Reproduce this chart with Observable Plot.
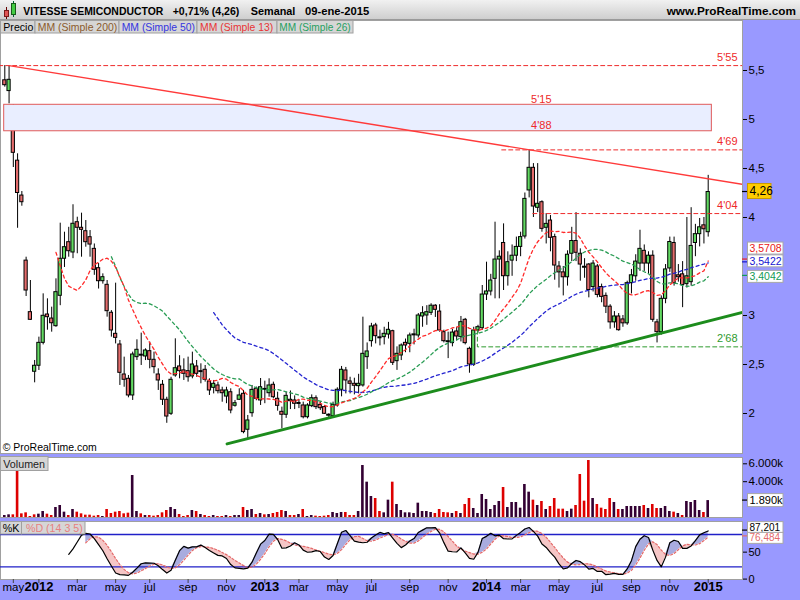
<!DOCTYPE html>
<html>
<head>
<meta charset="utf-8">
<script src="https://cdn.jsdelivr.net/npm/d3@7"></script>
<script src="https://cdn.jsdelivr.net/npm/@observablehq/plot@0.6"></script>
<style>
html,body{margin:0;padding:0;background:#fff;}
#root{position:relative;width:800px;height:600px;background:#9999ff;overflow:hidden;font-family:"Liberation Sans",Arial,sans-serif;}
.panel{position:absolute;left:0;line-height:0;}
#overlay{position:absolute;left:0;top:0;pointer-events:none;}
</style>
</head>
<body>
<div id="root">
  <div id="main" class="panel" style="top:20px"></div>
  <div id="vol" class="panel" style="top:457px"></div>
  <div id="sto" class="panel" style="top:521px"></div>
  <svg id="overlay" width="800" height="600"></svg>
</div>
<script>
// ---------------- DATA (weekly candles, 11-nov-2011 .. 09-ene-2015) ----------------
const open = [5.40,5.29,5.10,4.58,4.224,3.56,3.034,2.426,2.487,2.721,
3.01,2.969,2.891,3.201,3.579,3.748,3.643,3.952,3.895,3.86,
3.799,3.68,3.483,3.35,3.313,3.028,2.813,2.704,2.398,2.354,
2.184,2.575,2.59,2.582,2.636,2.548,2.398,2.293,2.14,1.997,
2.388,2.48,2.44,2.432,2.378,2.48,2.43,2.446,2.327,2.262,
2.286,2.235,2.173,2.217,2.079,2.14,2.201,1.834,2.003,2.252,
2.133,2.24,2.207,2.293,2.15,2.017,1.987,2.126,2.133,2.10,
2.082,1.962,2.075,2.156,2.088,2.065,1.98,1.973,2.082,2.242,
2.439,2.327,2.303,2.279,2.286,2.575,2.738,2.898,2.77,2.779,
2.806,2.84,2.534,2.592,2.721,2.711,2.80,2.796,2.99,3.00,
3.027,3.10,3.04,2.83,2.73,2.718,2.837,2.779,2.956,2.66,
2.497,2.847,2.87,3.214,3.245,3.374,3.571,3.74,3.401,3.56,
3.61,3.70,3.806,4.276,4.507,4.099,4.156,3.895,3.969,3.80,
3.50,3.44,3.39,3.63,3.76,3.63,3.49,3.52,3.29,3.50,
3.29,3.20,3.09,2.93,2.99,2.96,2.92,3.33,3.40,3.53,
3.66,3.53,3.61,2.93,2.83,3.17,3.48,3.74,3.41,3.42,
3.32,3.34,3.74,3.83,3.92,3.85];
const high = [5.55,5.55,5.15,4.65,4.265,3.595,3.357,2.541,2.779,3.221,
3.17,3.085,3.374,3.942,3.85,3.90,4.13,4.003,4.044,3.969,
3.867,3.73,3.53,3.425,3.357,3.05,3.33,2.745,2.575,2.388,
2.626,2.752,2.82,2.66,2.728,2.626,2.456,2.337,2.166,2.37,
2.762,2.59,2.558,2.575,2.626,2.541,2.507,2.49,2.354,2.337,
2.32,2.268,2.268,2.252,2.133,2.252,2.235,1.98,2.286,2.27,
2.357,2.33,2.354,2.32,2.217,2.065,2.217,2.23,2.18,2.14,
2.116,2.10,2.19,2.18,2.12,2.082,1.997,2.116,2.262,2.48,
2.47,2.37,2.36,2.40,2.983,2.72,2.92,2.92,2.85,2.88,
2.93,2.85,2.68,2.71,2.76,2.82,2.86,3.02,3.09,3.10,
3.12,3.11,3.11,2.85,2.83,2.86,2.88,2.99,2.97,2.677,
2.88,2.90,3.306,3.544,3.42,3.952,3.66,3.935,3.65,3.72,
3.80,3.85,4.25,4.69,4.55,4.55,4.17,4.04,4.02,3.83,
3.55,3.50,3.66,3.90,4.05,3.68,3.58,3.53,3.56,3.52,
3.32,3.23,3.11,3.04,3.02,3.00,3.35,3.47,3.62,3.87,
3.72,3.65,3.66,2.96,3.20,3.52,3.80,3.80,3.52,3.55,
4.00,4.10,3.93,3.99,4.00,4.43];
const low = [5.33,5.16,4.51,3.89,4.115,3.194,2.949,2.313,2.439,2.70,
2.85,2.83,2.88,3.10,3.49,3.595,3.58,3.63,3.595,3.697,
3.595,3.41,3.27,3.32,2.983,2.779,2.71,2.286,2.268,2.16,
2.133,2.541,2.49,2.54,2.456,2.405,2.235,2.082,1.90,1.98,
2.37,2.354,2.337,2.32,2.354,2.37,2.303,2.32,2.184,2.20,
2.20,2.115,2.10,1.997,2.065,2.133,1.793,1.742,1.962,2.13,
2.082,2.10,2.166,2.15,2.024,1.844,1.95,2.04,2.04,2.05,
1.945,1.945,2.06,2.04,2.03,1.99,1.96,1.96,2.065,2.17,
2.20,2.20,2.19,2.20,2.269,2.45,2.677,2.71,2.69,2.70,
2.76,2.49,2.44,2.54,2.62,2.62,2.70,2.77,2.88,2.90,
3.00,2.98,2.83,2.72,2.56,2.68,2.74,2.73,2.70,2.411,
2.48,2.82,2.847,3.153,3.20,3.17,3.17,3.255,3.30,3.40,
3.55,3.60,3.78,4.20,4.00,4.05,3.85,3.73,3.65,3.36,
3.28,3.20,3.30,3.55,3.55,3.35,3.38,3.18,3.24,3.18,
3.13,3.02,2.86,2.87,2.84,2.88,2.90,3.22,3.35,3.45,
3.45,3.42,2.93,2.72,2.80,3.12,3.44,3.30,3.34,3.08,
3.28,3.30,3.60,3.70,3.73,3.80];
const close = [5.35,5.405,4.66,4.25,4.156,3.255,2.956,2.487,2.721,2.997,
2.983,2.921,3.238,3.579,3.697,3.656,3.936,3.895,3.874,3.748,
3.724,3.466,3.35,3.391,3.044,2.847,2.772,2.415,2.344,2.184,
2.602,2.65,2.60,2.643,2.548,2.473,2.337,2.14,1.969,2.344,
2.462,2.432,2.405,2.37,2.50,2.405,2.425,2.344,2.235,2.303,
2.228,2.207,2.235,2.031,2.105,2.184,1.81,1.929,2.241,2.15,
2.268,2.252,2.286,2.166,2.078,1.987,2.18,2.14,2.099,2.105,
1.962,2.082,2.156,2.065,2.054,1.997,1.985,2.088,2.242,2.446,
2.337,2.303,2.283,2.303,2.609,2.633,2.888,2.789,2.775,2.813,
2.854,2.517,2.609,2.694,2.694,2.796,2.805,3.00,3.023,3.034,
3.10,3.058,2.847,2.738,2.735,2.826,2.786,2.932,2.718,2.50,
2.847,2.881,3.214,3.245,3.357,3.571,3.60,3.401,3.544,3.61,
3.70,3.80,4.19,4.507,4.112,4.14,3.884,3.935,3.793,3.51,
3.44,3.39,3.62,3.76,3.64,3.52,3.495,3.26,3.53,3.21,
3.19,3.09,2.93,2.99,2.85,2.92,3.33,3.41,3.55,3.68,
3.53,3.61,2.956,2.83,3.17,3.47,3.75,3.33,3.39,3.31,
3.40,3.71,3.83,3.90,3.88,4.26];
// volume in thousands of shares
const volume = [223,298,298,5251,410,521,112,298,372,670,
372,223,1117,1341,596,223,894,596,410,261,
261,149,223,112,894,447,596,670,410,484,
4692,670,410,223,223,149,223,521,782,1117,
894,335,112,223,782,670,335,223,112,223,
112,112,223,112,223,223,1117,782,894,335,
447,298,335,447,559,782,670,223,223,335,
894,112,223,149,112,149,223,559,447,559,
559,223,223,670,5809,3947,2346,2123,670,521,
1936,3947,1452,782,521,521,447,1601,670,670,
559,447,894,559,521,447,670,447,1452,2123,
1005,447,2570,2011,894,1341,1788,3352,1117,1676,
1676,1043,3687,2830,1936,1341,1788,894,1229,2123,
931,931,670,931,1341,4804,1825,6368,2123,1452,
1043,894,2123,1676,894,894,1229,1229,1229,1229,
1341,1005,1452,1005,1005,1229,670,596,447,223,
1788,1676,1899,782,559,1890];

const priceTicks = [2, 2.5, 3, 4, 4.5, 5, 5.5];
const volumeTicks = [4000, 6000];
const stochTicks = [0, 50];
const stochBands = [80, 20];
const xTickDates = ["2011-11-25","2012-01-06","2012-03-09","2012-05-11","2012-07-06","2012-09-07","2012-11-09",
  "2013-01-11","2013-03-08","2013-05-10","2013-07-05","2013-09-06","2013-11-08",
  "2014-01-10","2014-03-07","2014-05-09","2014-07-11","2014-09-05","2014-11-07","2015-01-09"];
const xTickLabels = ["may","2012","mar","may","jul","sep","nov","2013","mar","may","jul","sep","nov",
  "2014","mar","may","jul","sep","nov","2015"];

// drawn objects (levels, zone, trend lines)
const levelPrices = [5.55, 4.69, 4.04, 2.68];
const levelLabels = ["5'55", "4'69", "4'04", "2'68"];
const levelStarts = ["2011-11-01", "2014-02-04", "2014-03-27", "2013-12-26"];
const zonePrices = [4.88, 5.15];
const zoneDates = ["2011-11-10", "2015-01-15"];
const zoneLabelDate = "2014-04-10";
const resistanceDates = ["2011-11-18", "2015-03-08"];
const resistancePrices = [5.55, 4.337];
const supportDates = ["2012-11-10", "2015-03-08"];
const supportPrices = [1.69, 3.034];

// last values shown in the right scale
const lastPrice = 4.26;
const maLast = [3.5708, 3.5422, 3.4042];      // MM13, MM50, MM26
const lastVolume = 1890;
const stochLast = [87.201, 76.484];           // %K, %D

// ---------------- BUILD ----------------
const FONT = '"Liberation Sans", Arial, sans-serif';
const DAY = 864e5;
const PX_WEEK = 4.263;
const pxToMs = px => px / PX_WEEK * 7 * DAY;
const weeks = d3.utcFriday.range(new Date(Date.UTC(2011,10,11)), new Date(Date.UTC(2015,0,10)));
if (weeks.length !== open.length || [high,low,close,volume].some(a => a.length !== open.length))
  throw new Error("length mismatch " + weeks.length + " " + [open,high,low,close,volume].map(a=>a.length));
const xDomain = [new Date(+weeks[0] - pxToMs(4.3)), new Date(+weeks[0] + pxToMs(742 - 4.3))];
const D = s => new Date(s + "T00:00:00Z");

const candles = weeks.map((date, i) => ({
  date, open: open[i], high: high[i], low: low[i], close: close[i], volume: volume[i],
  bull: close[i] >= open[i], up: i === 0 ? true : close[i] >= close[i-1]
}));
const sma = (vals, k) => vals.map((_, i) => i < k - 1 ? NaN : d3.mean(vals.slice(i - k + 1, i + 1)));
const ma = k => sma(close, k).map((v, i) => ({date: weeks[i], v})).filter(d => !isNaN(d.v));

// stochastic 14,3,5
const rawK = candles.map((d, i) => {
  if (i < 13) return NaN;
  const w = candles.slice(i - 13, i + 1);
  const hh = d3.max(w, e => e.high), ll = d3.min(w, e => e.low);
  return (d.close - ll) / (hh - ll) * 100;
});
const kVals = rawK.map((_, i) => i < 15 ? NaN : d3.mean(rawK.slice(i - 2, i + 1)));
const dVals = kVals.map((_, i) => i < 19 ? NaN : d3.mean(kVals.slice(i - 4, i + 1)));
const kRows = weeks.map((date, i) => ({date, k: kVals[i]})).filter(d => !isNaN(d.k));
const stRows = weeks.map((date, i) => ({date, k: kVals[i], d: dVals[i]})).filter(d => !isNaN(d.d));

const HALF_BODY = pxToMs(1.6);
const HALF_VOL = pxToMs(1.3);
const GREEN = "#62da62", REDC = "#e46c6c";
const bodyLo = d => Math.abs(d.open - d.close) < 0.012 ? (d.open + d.close) / 2 - 0.005 : Math.min(d.open, d.close);
const bodyHi = d => Math.abs(d.open - d.close) < 0.012 ? (d.open + d.close) / 2 + 0.005 : Math.max(d.open, d.close);
const comma = v => String(v).replace(".", ",");
const LVL_RED = "#ee2a2a", LVL_GREEN = "#2e9a2e";

const levelMarks = levelPrices.flatMap((p, i) => {
  const green = i === 3;
  const col = green ? LVL_GREEN : LVL_RED;
  const pts = [];
  if (green) pts.push({date: D(levelStarts[i]), price: 2.85});
  pts.push({date: D(levelStarts[i]), price: p}, {date: xDomain[1], price: p});
  return [
    Plot.line(pts, {x: "date", y: "price", stroke: col, strokeWidth: 1, strokeDasharray: "4,3", clip: true}),
    Plot.text([{price: p, label: levelLabels[i]}], {x: () => xDomain[1], y: "price", text: "label", fill: col,
      textAnchor: "end", dx: -5, dy: -8, fontSize: 11})
  ];
});

const mainPlot = Plot.plot({
  width: 800, height: 433, marginTop: 0, marginBottom: 0, marginLeft: 0, marginRight: 58,
  style: {background: "transparent", color: "black", fontFamily: FONT, fontSize: "11px", overflow: "visible"},
  x: {type: "utc", domain: xDomain, axis: null},
  y: {domain: [1.5918, 6.0102]},
  marks: [
    Plot.frame({fill: "white", stroke: "#a0a0a0"}),
    Plot.ruleX(candles, {x: "date", y1: "low", y2: "high", stroke: "black", strokeWidth: 1}),
    Plot.rect(candles, {filter: d => d.bull, x1: d => new Date(+d.date - HALF_BODY), x2: d => new Date(+d.date + HALF_BODY),
      y1: bodyLo, y2: bodyHi, fill: GREEN, stroke: "black", strokeWidth: 1}),
    Plot.rect(candles, {filter: d => !d.bull, x1: d => new Date(+d.date - HALF_BODY), x2: d => new Date(+d.date + HALF_BODY),
      y1: bodyLo, y2: bodyHi, fill: REDC, stroke: "black", strokeWidth: 1}),
    Plot.line(ma(50), {x: "date", y: "v", stroke: "#2424d0", strokeWidth: 1.3, strokeDasharray: "3,3"}),
    Plot.line(ma(26), {x: "date", y: "v", stroke: "#2a9d55", strokeWidth: 1.3, strokeDasharray: "3,3"}),
    Plot.line(ma(13), {x: "date", y: "v", stroke: "#ff2a2a", strokeWidth: 1.3, strokeDasharray: "3,3"}),
    Plot.rect([{}], {x1: () => D(zoneDates[0]), x2: () => D(zoneDates[1]), y1: () => zonePrices[0], y2: () => zonePrices[1],
      fill: "#e9eeff", stroke: "#e05a5a", strokeWidth: 1}),
    Plot.text([{p: zonePrices[1], t: "5'15"}], {x: () => D(zoneLabelDate), y: "p", text: "t", dy: -5, fill: LVL_RED, fontSize: 11}),
    Plot.text([{p: zonePrices[0], t: "4'88"}], {x: () => D(zoneLabelDate), y: "p", text: "t", dy: -6, fill: LVL_RED, fontSize: 11}),
    ...levelMarks,
    Plot.line(resistanceDates.map((s, i) => ({date: D(s), price: resistancePrices[i]})),
      {x: "date", y: "price", stroke: "#ff3a3a", strokeWidth: 1.4, clip: true}),
    Plot.line(supportDates.map((s, i) => ({date: D(s), price: supportPrices[i]})),
      {x: "date", y: "price", stroke: "#1c8c1c", strokeWidth: 3, clip: true}),
    Plot.axisY({anchor: "right", ticks: priceTicks, tickFormat: comma, tickSize: 4, tickPadding: 2, fontSize: 11.5, label: null})
  ]
});
document.getElementById("main").appendChild(mainPlot);

const volPlot = Plot.plot({
  width: 800, height: 60, marginTop: 0, marginBottom: 0, marginLeft: 0, marginRight: 58,
  style: {background: "transparent", color: "black", fontFamily: FONT, fontSize: "11px", overflow: "visible"},
  x: {type: "utc", domain: xDomain, axis: null},
  y: {domain: [0, 6704]},
  marks: [
    Plot.frame({fill: "white", stroke: "#a0a0a0"}),
    Plot.rect(candles, {filter: d => d.up, x1: d => new Date(+d.date - HALF_VOL), x2: d => new Date(+d.date + HALF_VOL),
      y1: 0, y2: "volume", fill: "#330033"}),
    Plot.rect(candles, {filter: d => !d.up, x1: d => new Date(+d.date - HALF_VOL), x2: d => new Date(+d.date + HALF_VOL),
      y1: 0, y2: "volume", fill: "#dd0000"}),
    Plot.axisY({anchor: "right", ticks: volumeTicks, tickFormat: v => d3.format(",")(v).replace(",", ".") + "k",
      tickSize: 4, tickPadding: 2, fontSize: 11.5, label: null})
  ]
});
document.getElementById("vol").appendChild(volPlot);

const monthTicks = xTickDates.map((s, i) => ({date: D(s), label: xTickLabels[i]})).filter(d => !/^\d/.test(d.label));
const yearTicks = xTickDates.map((s, i) => ({date: D(s), label: xTickLabels[i]})).filter(d => /^\d/.test(d.label));
const stoPlot = Plot.plot({
  width: 800, height: 79, marginTop: 0, marginBottom: 21, marginLeft: 0, marginRight: 58,
  style: {background: "transparent", color: "black", fontFamily: FONT, fontSize: "11px", overflow: "visible"},
  x: {type: "utc", domain: xDomain, axis: null},
  y: {domain: [-3.53, 104.08]},
  marks: [
    Plot.frame({fill: "white", stroke: "#a0a0a0"}),
    Plot.areaY(stRows, {x: "date", y1: "d", y2: r => Math.max(r.k, r.d), fill: "#a9acdf"}),
    Plot.areaY(stRows, {x: "date", y1: r => Math.min(r.k, r.d), y2: "d", fill: "#f5c6c6"}),
    Plot.ruleY(stochBands, {stroke: "#2020c8", strokeWidth: 1.3}),
    Plot.line(stRows, {x: "date", y: "d", stroke: "#e46a6a", strokeWidth: 1.2, strokeDasharray: "2,2"}),
    Plot.line(kRows, {x: "date", y: "k", stroke: "black", strokeWidth: 1.2}),
    Plot.axisY({anchor: "right", ticks: stochTicks, tickSize: 4, tickPadding: 2, fontSize: 11, dy: 1.5, label: null}),
    Plot.axisX({anchor: "bottom", ticks: xTickDates.map(D), tickSize: 4, tickFormat: () => "", stroke: "#444", label: null}),
    Plot.text(monthTicks, {x: "date", text: "label", frameAnchor: "bottom", dy: 11, fontSize: 11.5, fill: "black"}),
    Plot.text(yearTicks, {x: "date", text: "label", frameAnchor: "bottom", dy: 11, fontSize: 13, fontWeight: "bold", fill: "black"})
  ]
});
document.getElementById("sto").appendChild(stoPlot);

// ---------------- value boxes on the right scales (positioned through the plot scales) ----------------
function valueBox(svgNode, yScale, value, shift, text, color, fill, stroke, w, h, size) {
  const s = d3.select(svgNode).append("g").attr("text-anchor", "start");
  const y = yScale.apply(value);
  s.append("line").attr("x1", 742).attr("x2", 747).attr("y1", y).attr("y2", y).attr("stroke", color).attr("stroke-width", 1.2);
  const yc = y + shift;
  s.append("rect").attr("x", 747.5).attr("y", yc - h / 2).attr("width", w).attr("height", h)
    .attr("fill", fill).attr("stroke", stroke);
  s.append("text").attr("x", 749.5).attr("y", yc + size * 0.36).attr("font-size", size).attr("font-family", FONT)
    .attr("text-anchor", "start").attr("fill", color).text(text);
}
const ym = mainPlot.scale("y");
valueBox(mainPlot, ym, lastPrice, -0.5, comma(lastPrice), "black", "#ffcc00", "#c99a00", 23.5, 15, 12);
valueBox(mainPlot, ym, maLast[0], -11, comma(maLast[0]), "#e82020", "white", "#a8a8a8", 35.5, 12, 10.5);
valueBox(mainPlot, ym, maLast[1], -1, comma(maLast[1]), "#1414d0", "white", "#a8a8a8", 35.5, 12, 10.5);
valueBox(mainPlot, ym, maLast[2], 1, comma(maLast[2]), "#139a55", "white", "#a8a8a8", 35.5, 12, 10.5);
valueBox(volPlot, volPlot.scale("y"), lastVolume, 0, d3.format(",")(lastVolume).replace(",", ".") + "k", "black", "white", "#a8a8a8", 35.5, 13, 11);
const ys = stoPlot.scale("y");
valueBox(stoPlot, ys, stochLast[0], -3, comma(stochLast[0]), "black", "white", "#a8a8a8", 35.5, 11, 10);
valueBox(stoPlot, ys, stochLast[1], 2, comma(stochLast[1]), "#e46a6a", "white", "#a8a8a8", 35.5, 11, 10);

// ---------------- header / legends overlay ----------------
const ov = d3.select("#overlay");
const defs = ov.append("defs");
const gr = defs.append("linearGradient").attr("id", "hdr").attr("x1", 0).attr("y1", 0).attr("x2", 0).attr("y2", 1);
gr.append("stop").attr("offset", "0%").attr("stop-color", "#f1f1f1");
gr.append("stop").attr("offset", "100%").attr("stop-color", "#cdcdcd");
ov.append("rect").attr("x", 0).attr("y", 0).attr("width", 800).attr("height", 20).attr("fill", "url(#hdr)");
ov.append("line").attr("x1", 0).attr("x2", 800).attr("y1", 19.5).attr("y2", 19.5).attr("stroke", "#9a9a9a");
// icon
ov.append("line").attr("x1", 6.5).attr("x2", 6.5).attr("y1", 7).attr("y2", 19).attr("stroke", "#600");
ov.append("rect").attr("x", 4.5).attr("y", 10.5).attr("width", 4).attr("height", 6).attr("fill", "#e05555").attr("stroke", "#7a1a1a");
ov.append("line").attr("x1", 13.5).attr("x2", 13.5).attr("y1", 1).attr("y2", 17).attr("stroke", "#063");
ov.append("rect").attr("x", 11.5).attr("y", 3.5).attr("width", 4).attr("height", 11).attr("fill", "#44cc44").attr("stroke", "#1a5a1a");

function txt(x, y, s, len, opt = {}) {
  const t = ov.append("text").attr("x", x).attr("y", y).attr("font-family", FONT)
    .attr("font-size", opt.size || 11).attr("fill", opt.color || "black").text(s);
  if (opt.bold) t.attr("font-weight", "bold");
  if (len) t.attr("textLength", len).attr("lengthAdjust", "spacingAndGlyphs");
  return t;
}
txt(23.3, 15, "VITESSE SEMICONDUCTOR", 140, {size: 10.5, bold: true});
txt(172.7, 15, "+0,71% (4,26)", 66.7, {size: 10.5, bold: true});
txt(250.7, 15, "Semanal", 44.7, {size: 10.5, bold: true});
txt(305, 15, "09-ene-2015", 64.3, {size: 10.5, bold: true});
txt(666.7, 15, "www.ProRealTime.com", 129.3, {size: 11, bold: true});

function box(x, y, w, h) {
  ov.append("rect").attr("x", x).attr("y", y).attr("width", w).attr("height", h)
    .attr("fill", "#d6d6d6").attr("stroke", "#a0a0a0");
}
const legendItems = [
  {t: "Precio", x0: 0.5, x1: 35, tx: 3.3, len: 30, c: "black"},
  {t: "MM (Simple 200)", x0: 35, x1: 119, tx: 37.7, len: 79.6, c: "#8b5a2b"},
  {t: "MM (Simple 50)", x0: 119, x1: 197, tx: 121.7, len: 73.3, c: "#3434e0"},
  {t: "MM (Simple 13)", x0: 197, x1: 277, tx: 200, len: 73.3, c: "#e83434"},
  {t: "MM (Simple 26)", x0: 277, x1: 353, tx: 279.3, len: 71.4, c: "#26a060"}
];
for (const it of legendItems) {
  box(it.x0, 20.5, it.x1 - it.x0, 12.5);
  txt(it.tx, 30.8, it.t, it.len, {color: it.c});
}
txt(2.7, 451, "\u00A9 ProRealTime.com", 94, {size: 11});
box(0.5, 456.5, 47.5, 14);
txt(3.3, 467.5, "Volumen", 41.7, {size: 11, color: "#222"});
box(0.5, 521.5, 21, 12.5);
txt(2.7, 531.8, "%K", 16.7, {size: 11});
box(21.5, 521.5, 63.5, 12.5);
txt(26, 531.8, "%D (14 3 5)", 56.7, {size: 11, color: "#e88080"});
</script>
</body>
</html>
